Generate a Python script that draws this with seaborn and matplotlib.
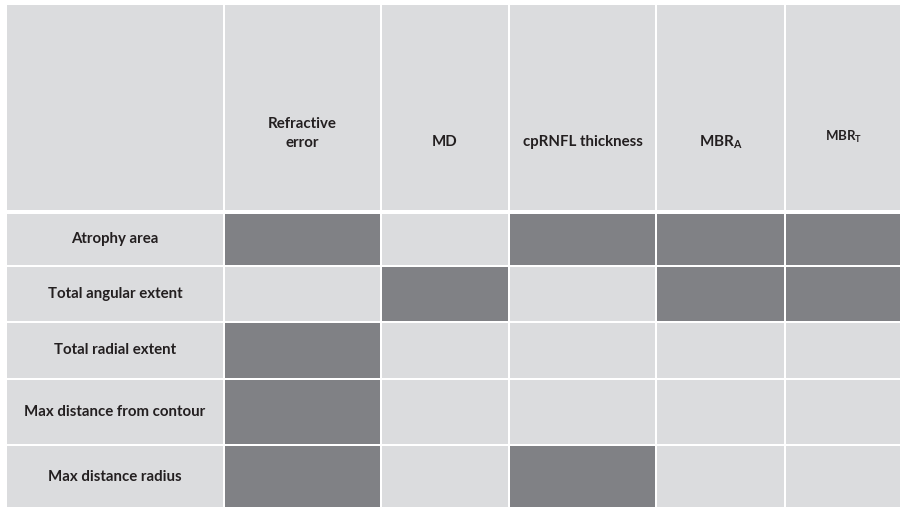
import pandas as pd
import seaborn as sns
import matplotlib.pyplot as plt
from matplotlib.colors import ListedColormap

# column headers and row labels of the table
columns = ['Refractive\nerror', 'MD', 'cpRNFL thickness', r'$\mathbf{MBR_A}$', r'$\mathbf{MBR_T}$']
rows = ['Atrophy area', 'Total angular extent', 'Total radial extent',
        'Max distance from contour', 'Max distance radius']

# 1 = significant association (dark cell), 0 = none (light cell)
atrophy_area = [1, 0, 1, 1, 1]
angular_extent = [0, 1, 0, 1, 1]
radial_extent = [1, 0, 0, 0, 0]
max_dist_contour = [1, 0, 0, 0, 0]
max_dist_radius = [1, 0, 1, 0, 0]

LIGHT = '#dbdcde'
DARK = '#808185'
W, H = 900, 507


def main():
    sns.set_style('white')
    plt.rcParams['font.family'] = ['Lato', 'DejaVu Sans']
    plt.rcParams['mathtext.fontset'] = 'custom'
    plt.rcParams['mathtext.bf'] = 'Lato:bold'
    plt.rcParams['mathtext.rm'] = 'Lato'

    df = pd.DataFrame([atrophy_area, angular_extent, radial_extent,
                       max_dist_contour, max_dist_radius],
                      index=rows, columns=columns)
    cmap = ListedColormap([LIGHT, DARK])

    fig = plt.figure(figsize=(W / 100, H / 100), dpi=100)
    fig.patch.set_facecolor('white')

    # cell edges in pixels (layout only)
    col_edges = [7, 224, 381, 509, 656, 785, 902]
    row_edges = [5, 212, 266, 322, 379, 445, 509]

    def cell_ax(r, c):
        x0 = col_edges[c] + (1 if c > 0 else 0)
        x1 = col_edges[c + 1] - 1
        y0 = row_edges[r] + (2 if r == 1 else (1 if r > 0 else 0))
        y1 = row_edges[r + 1] - (2 if r == 0 else 1)
        ax = fig.add_axes([x0 / W, 1 - y1 / H, (x1 - x0) / W, (y1 - y0) / H])
        for s in ax.spines.values():
            s.set_visible(False)
        ax.set_xticks([])
        ax.set_yticks([])
        return ax

    # empty top-left cell
    cell_ax(0, 0).set_facecolor(LIGHT)

    # header row
    header_y = [0.375, 0.33, 0.33, 0.33, 0.354]
    header_size = [10.8, 10.8, 10.8, 11, 9.5]
    for j, name in enumerate(columns):
        ax = cell_ax(0, j + 1)
        ax.set_facecolor(LIGHT)
        ax.text(0.5, header_y[j], name, ha='center', va='center',
                fontsize=header_size[j], fontweight='bold', color='#231f20',
                transform=ax.transAxes, linespacing=1.45)

    # row labels and data cells
    for i, name in enumerate(rows):
        ax = cell_ax(i + 1, 0)
        ax.set_facecolor(LIGHT)
        ax.text(0.5, 0.5, name, ha='center', va='center', fontsize=10.8,
                fontweight='bold', color='#231f20', transform=ax.transAxes)
        for j in range(len(columns)):
            ax = cell_ax(i + 1, j + 1)
            sns.heatmap(df.iloc[[i], [j]], ax=ax, cmap=cmap, vmin=0, vmax=1,
                        cbar=False, xticklabels=False, yticklabels=False)
            ax.set_xlabel('')
            ax.set_ylabel('')

    fig.savefig('out.png', dpi=100, facecolor='white')


if __name__ == "__main__":
    main()
